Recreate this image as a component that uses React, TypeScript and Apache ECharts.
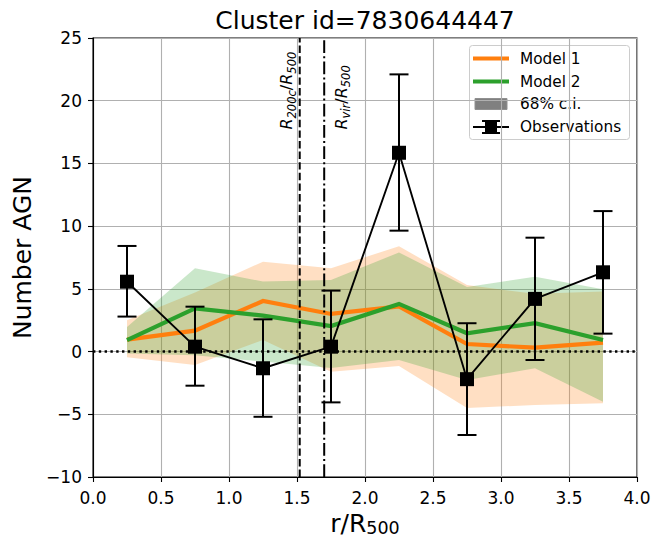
import React, { useEffect, useRef } from "react";
import * as echarts from "echarts";

// ---- data ----
const radii = [0.25, 0.75, 1.25, 1.75, 2.25, 2.75, 3.25, 3.75];
const obsValues = [5.57, 0.39, -1.33, 0.39, 15.85, -2.2, 4.2, 6.32];
const obsLower = [2.79, -2.72, -5.2, -4.05, 9.64, -6.65, -0.67, 1.43];
const obsUpper = [8.42, 3.58, 2.57, 4.86, 22.1, 2.26, 9.08, 11.2];
const model1 = [0.95, 1.67, 4.03, 3.0, 3.6, 0.6, 0.31, 0.71];
const model1Lower = [-0.45, -1.07, 0.92, -1.6, -1.15, -4.5, -4.26, -4.12];
const model1Upper = [2.5, 4.7, 7.17, 6.64, 8.4, 5.3, 4.6, 4.78];
const model2 = [0.92, 3.45, 2.87, 2.04, 3.8, 1.46, 2.26, 0.92];
const model2Lower = [-0.15, -0.3, -0.8, -1.3, -0.67, -2.27, -1.33, -4.0];
const model2Upper = [1.96, 6.64, 5.58, 5.7, 7.9, 5.15, 5.97, 4.96];
const refLines = [1.52, 1.7];
const refLabels = ["{i|R}{s|200c}{n|/}{i|R}{s|500}", "{i|R}{s|vir}{n|/}{i|R}{s|500}"];
const xTicks = { min: 0, max: 4, interval: 0.5 };
const yTicks = { min: -10, max: 25, interval: 5 };
const titleText = "Cluster id=7830644447";
const legendItems = ["Model 1", "Model 2", "68% c.i.", "Observations"];

const FONT = "DejaVu Sans";
const ORANGE = "#ff7f0e";
const GREEN = "#2ca02c";

function bandSeries(name: string, lower: number[], upper: number[], fill: string) {
  return {
    type: "custom",
    name,
    clip: true,
    z: 1,
    silent: true,
    data: radii.map((x, i) => [x, lower[i], upper[i]]),
    encode: { x: 0, y: [1, 2] },
    renderItem: (params: any, api: any) => {
      if (params.dataIndex !== 0) return null;
      const top = radii.map((x, i) => api.coord([x, upper[i]]));
      const bottom = radii.map((x, i) => api.coord([x, lower[i]])).reverse();
      return {
        type: "polygon",
        shape: { points: [...top, ...bottom] },
        style: { fill, stroke: "none" },
      };
    },
  };
}

export default function App() {
  const ref = useRef<HTMLDivElement>(null);
  useEffect(() => {
    const chart = echarts.init(ref.current!, null, { renderer: "svg" });
    const subRich = {
      i: { fontFamily: FONT, fontStyle: "italic", fontSize: 16, lineHeight: 22, color: "#000", verticalAlign: "middle" },
      n: { fontFamily: FONT, fontSize: 16, lineHeight: 22, color: "#000", verticalAlign: "middle" },
      s: { fontFamily: FONT, fontStyle: "italic", fontSize: 11.5, lineHeight: 12, color: "#000", verticalAlign: "bottom" },
    };
    const option: any = {
      animation: false,
      backgroundColor: "#fff",
      textStyle: { fontFamily: FONT },
      grid: {
        left: 93, right: 15, top: 38, bottom: 62,
        containLabel: false, outerBoundsMode: "none",
        show: true, borderColor: "#000", borderWidth: 1.1, backgroundColor: "transparent",
      },
      xAxis: {
        type: "value",
        min: xTicks.min,
        max: xTicks.max,
        interval: xTicks.interval,
        name: "{a|r/R}{b|500}",
        nameLocation: "middle",
        nameGap: 32,
        nameTextStyle: {
          rich: {
            a: { fontFamily: FONT, fontSize: 25, color: "#000", lineHeight: 28, verticalAlign: "middle" },
            b: { fontFamily: FONT, fontSize: 17.5, color: "#000", lineHeight: 14, verticalAlign: "bottom" },
          },
        },
        axisLine: { show: true, onZero: false, lineStyle: { color: "#000", width: 1.1 } },
        axisTick: { show: true, length: 5, lineStyle: { color: "#000", width: 1.1 } },
        axisLabel: { color: "#000", fontSize: 17, fontFamily: FONT, margin: 12, formatter: (v: number) => v.toFixed(1) },
        splitLine: { show: true, lineStyle: { color: "#b0b0b0", width: 1.1 } },
      },
      yAxis: {
        type: "value",
        min: yTicks.min,
        max: yTicks.max,
        interval: yTicks.interval,
        name: "Number AGN",
        nameLocation: "middle",
        nameGap: 56,
        nameTextStyle: { fontFamily: FONT, fontSize: 25, color: "#000" },
        axisLine: { show: true, onZero: false, lineStyle: { color: "#000", width: 1.1 } },
        axisTick: { show: true, length: 5, lineStyle: { color: "#000", width: 1.1 } },
        axisLabel: {
          color: "#000",
          fontSize: 17,
          fontFamily: FONT,
          margin: 11,
          formatter: (v: number) => (v < 0 ? "\u2212" + Math.abs(v) : String(v)),
        },
        splitLine: { show: true, lineStyle: { color: "#b0b0b0", width: 1.1 } },
      },
      series: [
        bandSeries("Model 1 c.i.", model1Lower, model1Upper, "rgba(255,127,14,0.25)"),
        bandSeries("Model 2 c.i.", model2Lower, model2Upper, "rgba(44,160,44,0.25)"),
        {
          type: "line",
          name: "Model 1",
          data: radii.map((x, i) => [x, model1[i]]),
          symbol: "none",
          z: 2,
          lineStyle: { color: ORANGE, width: 4.2, join: "miter" },
        },
        {
          type: "line",
          name: "Model 2",
          data: radii.map((x, i) => [x, model2[i]]),
          symbol: "none",
          z: 2,
          lineStyle: { color: GREEN, width: 4.2, join: "miter" },
        },
        {
          type: "line",
          name: "zero",
          data: [[xTicks.min, 0], [xTicks.max, 0]],
          symbol: "none",
          z: 3,
          lineStyle: { color: "#000", width: 2.4, type: [2.4, 3.4] },
        },
        {
          type: "custom",
          name: "refLines",
          z: 3,
          clip: false,
          data: refLines.map((x) => [x]),
          encode: { x: 0 },
          renderItem: (params: any, api: any) => {
            const x = api.value(0);
            const p1 = api.coord([x, yTicks.min]);
            const p2 = api.coord([x, yTicks.max]);
            const idx = params.dataIndex;
            const dash = idx === 0 ? [7.4, 3.2] : [12.8, 3.2, 2, 3.2];
            const labelX = idx === 0 ? p1[0] - 13 : p1[0] + 17;
            const labelY = api.coord([x, 17.7])[1];
            return {
              type: "group",
              children: [
                {
                  type: "line",
                  shape: { x1: p1[0], y1: p1[1], x2: p2[0], y2: p2[1] },
                  style: { stroke: "#000", lineWidth: 2, lineDash: dash },
                },
                {
                  type: "text",
                  x: labelX,
                  y: labelY,
                  rotation: Math.PI / 2,
                  style: {
                    text: refLabels[idx],
                    align: "left",
                    verticalAlign: "middle",
                    rich: subRich,
                  },
                },
              ],
            };
          },
        },
        {
          type: "custom",
          name: "errorbars",
          z: 4,
          data: radii.map((x, i) => [x, obsLower[i], obsUpper[i]]),
          encode: { x: 0, y: [1, 2] },
          renderItem: (params: any, api: any) => {
            const x = api.value(0);
            const lo = api.coord([x, api.value(1)]);
            const hi = api.coord([x, api.value(2)]);
            const cap = 9.5;
            const st = { stroke: "#000", lineWidth: 2 };
            return {
              type: "group",
              children: [
                { type: "line", shape: { x1: lo[0], y1: lo[1], x2: hi[0], y2: hi[1] }, style: st },
                { type: "line", shape: { x1: lo[0] - cap, y1: lo[1], x2: lo[0] + cap, y2: lo[1] }, style: st },
                { type: "line", shape: { x1: hi[0] - cap, y1: hi[1], x2: hi[0] + cap, y2: hi[1] }, style: st },
              ],
            };
          },
        },
        {
          type: "line",
          name: "Observations",
          data: radii.map((x, i) => [x, obsValues[i]]),
          symbol: "rect",
          symbolSize: 14,
          z: 5,
          itemStyle: { color: "#000" },
          lineStyle: { color: "#000", width: 1.9 },
        },
      ],
      graphic: [
        {
          type: "text",
          x: 365,
          y: 20,
          style: { text: titleText, fontFamily: FONT, fontSize: 25, fill: "#000", align: "center", verticalAlign: "middle" },
        },
        {
          type: "group",
          z: 100,
          children: [
            {
              type: "rect",
              shape: { x: 469.5, y: 45.5, width: 160, height: 94, r: 3 },
              style: { fill: "rgba(255,255,255,0.8)", stroke: "#cccccc", lineWidth: 1 },
            },
            { type: "line", shape: { x1: 473, y1: 58.5, x2: 509, y2: 58.5 }, style: { stroke: ORANGE, lineWidth: 4.2 } },
            { type: "line", shape: { x1: 473, y1: 81.5, x2: 509, y2: 81.5 }, style: { stroke: GREEN, lineWidth: 4.2 } },
            { type: "rect", shape: { x: 475, y: 98.5, width: 32, height: 11 }, style: { fill: "#808080", stroke: "#909090", lineWidth: 1 } },
            { type: "line", shape: { x1: 473, y1: 127, x2: 509, y2: 127 }, style: { stroke: "#000", lineWidth: 1.9 } },
            { type: "line", shape: { x1: 491, y1: 121, x2: 491, y2: 133 }, style: { stroke: "#000", lineWidth: 2 } },
            { type: "line", shape: { x1: 482, y1: 121, x2: 500, y2: 121 }, style: { stroke: "#000", lineWidth: 2 } },
            { type: "line", shape: { x1: 482, y1: 133, x2: 500, y2: 133 }, style: { stroke: "#000", lineWidth: 2 } },
            { type: "rect", shape: { x: 485, y: 121, width: 12, height: 12 }, style: { fill: "#000" } },
            ...legendItems.map((t, i) => ({
              type: "text",
              x: 520,
              y: [58.5, 81.5, 104, 127][i],
              style: { text: t, fontFamily: FONT, fontSize: 15.3, fill: "#000", align: "left", verticalAlign: "middle" },
            })),
          ],
        },
      ],
    };
    chart.setOption(option);
    return () => chart.dispose();
  }, []);
  return <div ref={ref} style={{ position: "absolute", left: 0, top: 0, width: 652, height: 539 }} />;
}
